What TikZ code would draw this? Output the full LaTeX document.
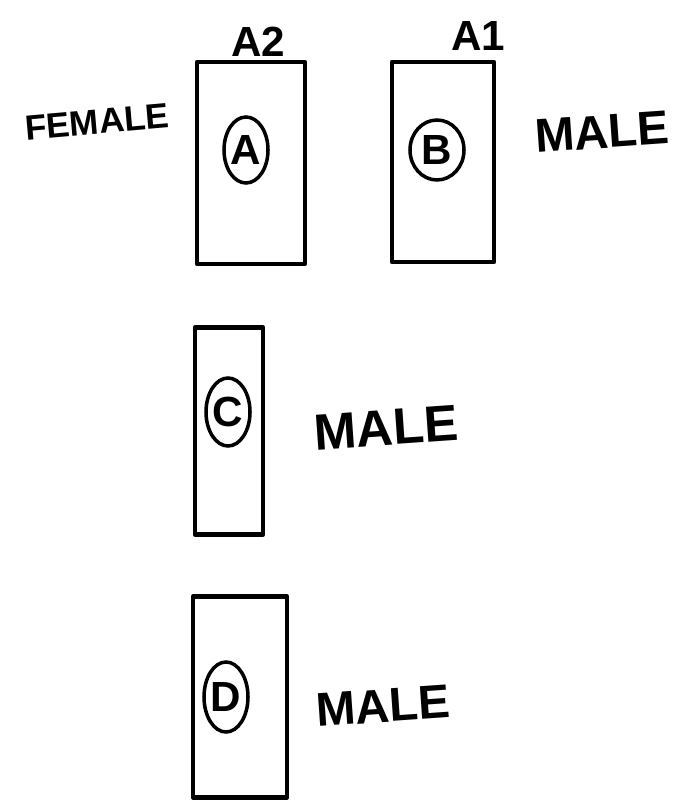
\documentclass[tikz,border=0pt]{standalone}
\usepackage{fontspec}
\setmainfont{Liberation Sans}
\usetikzlibrary{shapes.geometric, positioning}

\tikzset{
  pen/.style={line width=2.6pt, line join=round, line cap=round},
  cage/.style={draw, pen, rectangle, inner sep=0pt},
  tag/.style={draw, line width=2pt, ellipse, inner sep=0pt, font=\bfseries\fontsize{24}{24}\selectfont},
  sex/.style={font=\bfseries\fontsize{27}{27}\selectfont},
  site/.style={font=\bfseries\fontsize{24}{24}\selectfont}
}

\begin{document}
\begin{tikzpicture}[x=0.02cm, y=-0.02cm]
  \useasboundingbox (0,0) rectangle (685,800);

  % top row
  \node[cage, minimum width=108*0.02cm, minimum height=202*0.02cm] (boxA) at (251,163) {};
  \node[cage, minimum width=102*0.02cm, minimum height=200*0.02cm] (boxB) at (443,162) {};
  \node[tag, minimum width=44*0.02cm, minimum height=66*0.02cm] (tagA) at (246,150) {A};
  \node[tag, minimum width=54*0.02cm, minimum height=60*0.02cm] (tagB) at (437,150) {B};
  \node[site] (lblA) at (258,42) {A2};
  \node[site] (lblB) at (478,36) {A1};
  \node[sex, font=\bfseries\fontsize{20}{20}\selectfont, rotate=5] (sexA) at (97,122) {FEMALE};
  \node[sex, rotate=4] (sexB) at (602,132) {MALE};

  % middle
  \node[cage, minimum width=68*0.02cm, minimum height=207*0.02cm] (boxC) at (229,431) {};
  \node[tag, minimum width=44*0.02cm, minimum height=68*0.02cm] (tagC) at (228,412) {C};
  \node[sex, font=\bfseries\fontsize{29}{29}\selectfont, rotate=4] (sexC) at (386,428) {MALE};

  % bottom
  \node[cage, minimum width=94*0.02cm, minimum height=201*0.02cm] (boxD) at (240,697) {};
  \node[tag, minimum width=44*0.02cm, minimum height=70*0.02cm] (tagD) at (226,697) {D};
  \node[sex, rotate=4] (sexD) at (383,706) {MALE};
\end{tikzpicture}
\end{document}
